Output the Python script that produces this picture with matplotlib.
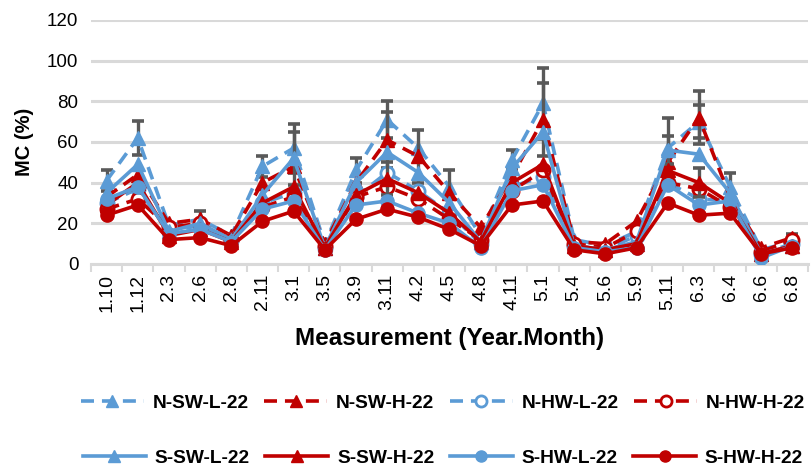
import matplotlib
matplotlib.use('Agg')
import matplotlib.pyplot as plt
import numpy as np
from matplotlib.lines import Line2D

categories = ['1.10', '1.12', '2.3', '2.6', '2.8', '2.11', '3.1', '3.5', '3.9', '3.11', '4.2', '4.5',
              '4.8', '4.11', '5.1', '5.4', '5.6', '5.9', '5.11', '6.3', '6.4', '6.6', '6.8']

n_sw_l = [41, 62, 19, 22, 14, 48, 57, 10, 46, 71, 57, 38, 14, 51, 79, 12, 9, 16, 57, 70, 38, 7, 11]
n_sw_h = [33, 44, 20, 22, 14, 40, 48, 10, 40, 61, 53, 35, 18, 43, 71, 11, 10, 21, 50, 72, 33, 8, 13]
n_hw_l = [30, 37, 16, 19, 12, 30, 35, 8, 33, 45, 36, 25, 10, 38, 43, 9, 7, 14, 40, 32, 31, 5, 10]
n_hw_h = [27, 32, 18, 20, 12, 28, 33, 9, 33, 38, 32, 22, 12, 36, 46, 10, 8, 16, 40, 37, 28, 6, 12]
s_sw_l = [35, 49, 16, 20, 12, 34, 52, 8, 40, 55, 45, 30, 11, 47, 65, 9, 7, 11, 56, 54, 35, 5, 9]
s_sw_h = [29, 40, 14, 17, 11, 30, 38, 8, 34, 42, 35, 25, 11, 40, 49, 9, 7, 10, 46, 40, 30, 5, 9]
s_hw_l = [32, 38, 15, 17, 11, 27, 31, 7, 29, 31, 25, 20, 8, 36, 39, 8, 6, 8, 39, 29, 31, 3, 9]
s_hw_h = [24, 29, 12, 13, 9, 21, 26, 7, 22, 27, 23, 17, 9, 29, 31, 7, 5, 8, 30, 24, 25, 5, 8]

# symmetric error values (0 = no error bar drawn)
n_sw_l_err = [5, 8.5, 0, 0, 0, 5, 12, 0, 6, 9, 0, 0, 0, 5, 17.5, 0, 0, 0, 15, 8, 7, 0, 0]
n_sw_h_err = [0, 0, 0, 4, 0, 0, 0, 0, 0, 14, 13, 11, 0, 0, 18, 0, 0, 0, 0, 13, 0, 0, 2]
s_sw_l_err = [0, 0, 0, 0, 0, 0, 13, 0, 0, 0, 0, 0, 0, 0, 0, 0, 0, 0, 7, 0, 0, 0, 0]
s_sw_h_err = [0, 0, 0, 0, 0, 0, 0, 0, 0, 8, 0, 0, 0, 0, 0, 0, 0, 0, 0, 7, 0, 0, 0]

BLUE = '#5B9BD5'
RED = '#C00000'
GRID = '#D9D9D9'
ERRC = '#595959'
FAM = ['Liberation Sans', 'DejaVu Sans']

series = [
    ('N-SW-L-22', n_sw_l, n_sw_l_err, BLUE, 'dashed', '^', None),
    ('N-SW-H-22', n_sw_h, n_sw_h_err, RED, 'dashed', '^', None),
    ('N-HW-L-22', n_hw_l, None, BLUE, 'dashed', 'o', 'white'),
    ('N-HW-H-22', n_hw_h, None, RED, 'dashed', 'o', 'white'),
    ('S-SW-L-22', s_sw_l, s_sw_l_err, BLUE, 'solid', '^', None),
    ('S-SW-H-22', s_sw_h, s_sw_h_err, RED, 'solid', '^', None),
    ('S-HW-L-22', s_hw_l, None, BLUE, 'solid', 'o', None),
    ('S-HW-H-22', s_hw_h, None, RED, 'solid', 'o', None),
]

fig = plt.figure(figsize=(8.12, 4.70), dpi=100)
ax = fig.add_axes([91 / 812, 1 - 264 / 470, (808 - 91) / 812, (264 - 20) / 470])

x = np.arange(len(categories))
LW = 2.6
DASH = (0, (3.6, 2.2))
handles = {}
for k, (name, vals, err, col, ls, mk, mfc) in enumerate(series):
    z = 3 + k
    if err is not None:
        idx = [i for i, e in enumerate(err) if e > 0]
        ax.errorbar(x[idx], np.array(vals, float)[idx], yerr=np.array(err, float)[idx],
                    fmt='none', ecolor=ERRC, elinewidth=2.4, capsize=4.5, capthick=2.6, zorder=z)
    kw = dict(color=col, lw=LW, marker=mk, markersize=9.5 if mk == 'o' else 10,
              markerfacecolor=mfc if mfc else col, markeredgecolor=col,
              markeredgewidth=2 if mfc else 1)
    ax.plot(x, vals, linestyle=DASH if ls == 'dashed' else '-', zorder=z + 0.5, **kw)
    hkw = dict(kw)
    hkw['markersize'] = 8
    handles[name] = Line2D([], [], linestyle=DASH if ls == 'dashed' else '-', **hkw)

ax.set_xlim(-0.5, len(categories) - 0.5)
ax.set_ylim(0, 120)
ax.set_yticks(np.arange(0, 121, 20))
ax.yaxis.grid(True, color=GRID, lw=2.2)
ax.set_axisbelow(True)
for s in ['top', 'right', 'left']:
    ax.spines[s].set_visible(False)
ax.spines['bottom'].set_color(GRID)
ax.spines['bottom'].set_linewidth(2.2)
ax.spines['bottom'].set_zorder(1)

ax.set_xticks(x)
ax.set_xticklabels(categories, rotation=90, fontsize=14, family=FAM)
ax.set_xticks(np.arange(-0.5, len(categories), 1), minor=True)
ax.tick_params(axis='x', which='major', length=0, pad=7)
ax.tick_params(axis='x', which='minor', length=6, width=1.5, color=GRID)
ax.tick_params(axis='y', length=0, pad=9)
for t in ax.get_yticklabels():
    t.set_fontsize(13.5)
    t.set_family(FAM)

ax.set_ylabel('MC (%)', fontsize=14.5, fontweight='bold', family=FAM)
ax.yaxis.set_label_coords((34 - 91) / 717, 0.5)
fig.text(450 / 812, 1 - 338 / 470, 'Measurement (Year.Month)', ha='center', va='center',
         fontsize=17.5, fontweight='bold', family=FAM)

leg_kw = dict(loc='center', ncol=4, frameon=False, handlelength=3.3, handletextpad=0.45,
              columnspacing=0.8, prop={'family': FAM, 'weight': 'bold', 'size': 13.8})
row1 = ['N-SW-L-22', 'N-SW-H-22', 'N-HW-L-22', 'N-HW-H-22']
row2 = ['S-SW-L-22', 'S-SW-H-22', 'S-HW-L-22', 'S-HW-H-22']
fig.legend([handles[n] for n in row1], row1, bbox_to_anchor=(443 / 812, 1 - 403 / 470), **leg_kw)
fig.legend([handles[n] for n in row2], row2, bbox_to_anchor=(443 / 812, 1 - 458 / 470), **leg_kw)

fig.savefig('out.png', dpi=100)
